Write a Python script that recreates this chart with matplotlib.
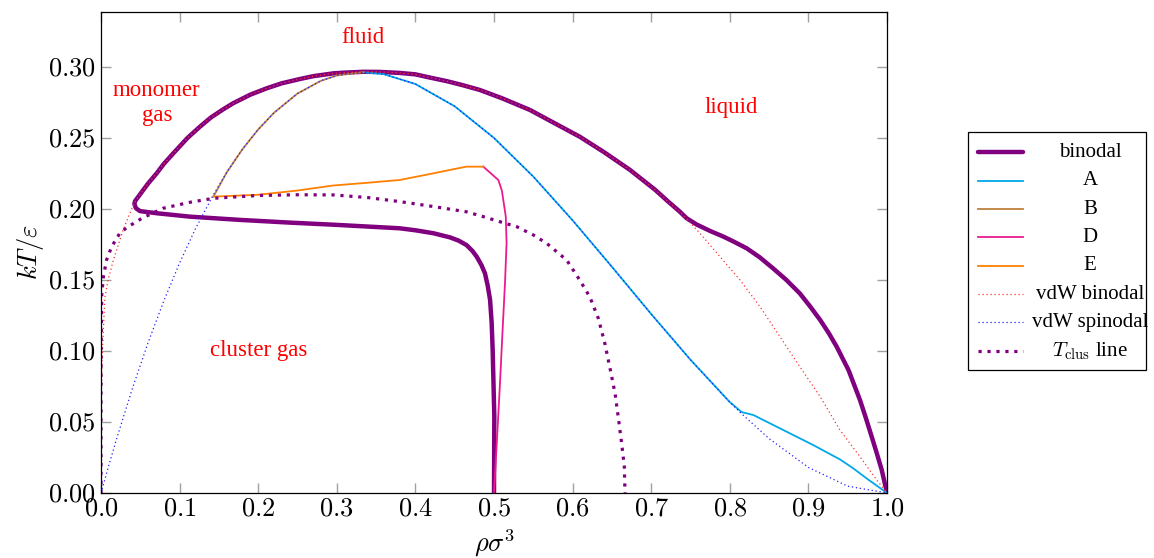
import matplotlib
matplotlib.use("Agg")
import matplotlib.pyplot as plt
from matplotlib.lines import Line2D
from matplotlib.patches import Rectangle

plt.rcParams['mathtext.fontset'] = 'cm'
plt.rcParams['font.family'] = ['Liberation Serif', 'DejaVu Serif']

# ---------------- data ----------------
binodal_x = [0.500, 0.5004, 0.4983, 0.497, 0.495, 0.492, 0.4885, 0.484, 0.478, 0.4725,
             0.465, 0.455, 0.444, 0.423, 0.400, 0.380, 0.300, 0.240, 0.177, 0.113,
             0.0708, 0.0496, 0.0445, 0.0425, 0.0433, 0.0538, 0.060, 0.0708, 0.080,
             0.092, 0.100, 0.110, 0.126, 0.140, 0.155, 0.168, 0.190, 0.211, 0.230,
             0.253, 0.270, 0.2956, 0.310, 0.3337, 0.355, 0.380, 0.400, 0.4186, 0.440,
             0.460, 0.482, 0.510, 0.5458, 0.575, 0.609, 0.640, 0.673, 0.705, 0.722,
             0.7366, 0.745, 0.758, 0.775, 0.792, 0.805, 0.8215, 0.838, 0.855, 0.872,
             0.889, 0.902, 0.915, 0.926, 0.936, 0.951, 0.958, 0.9656, 0.973, 0.9805,
             0.987, 0.9933, 1.0]
binodal_y = [0.000, 0.054, 0.1007, 0.120, 0.136, 0.146, 0.1547, 0.1605, 0.1664, 0.1705,
             0.1746, 0.1777, 0.1800, 0.1829, 0.1850, 0.1864, 0.1888, 0.1904, 0.1923,
             0.1946, 0.1970, 0.1985, 0.2005, 0.2035, 0.2055, 0.2134, 0.2180, 0.2251,
             0.2318, 0.2392, 0.2440, 0.2500, 0.2580, 0.2645, 0.2700, 0.2744, 0.2805,
             0.2850, 0.2885, 0.2915, 0.2935, 0.2955, 0.2960, 0.2966, 0.2965, 0.2958,
             0.2948, 0.2925, 0.2900, 0.2872, 0.2838, 0.2780, 0.2697, 0.2610, 0.2509,
             0.2400, 0.2275, 0.2135, 0.2050, 0.1980, 0.1935, 0.1890, 0.1845, 0.1805,
             0.1770, 0.1723, 0.1660, 0.1582, 0.1500, 0.1406, 0.1315, 0.1218, 0.1125,
             0.1030, 0.0866, 0.0765, 0.0655, 0.0530, 0.0397, 0.0280, 0.0162, 0.0]

A_x = [0.3333, 0.36, 0.40, 0.45, 0.50, 0.55, 0.60, 0.65, 0.70, 0.75, 0.80, 0.815,
       0.830, 0.8639, 0.906, 0.940, 0.957, 0.974, 1.0]
A_y = [0.2963, 0.2949, 0.2880, 0.2723, 0.2500, 0.2228, 0.1920, 0.1593, 0.1260, 0.0938,
       0.0640, 0.0570, 0.0549, 0.0455, 0.0338, 0.0237, 0.0174, 0.0103, 0.0]

B_x = [0.143, 0.16, 0.18, 0.20, 0.22, 0.25, 0.28, 0.30, 0.3333]
B_y = [0.2087, 0.2258, 0.2421, 0.2560, 0.2677, 0.2813, 0.2903, 0.2940, 0.2963]

D_x = [0.500, 0.5035, 0.5076, 0.5105, 0.514, 0.516, 0.515, 0.510, 0.5055, 0.4864]
D_y = [0.000, 0.035, 0.077, 0.110, 0.148, 0.176, 0.1946, 0.213, 0.2204, 0.2298]

E_x = [0.143, 0.200, 0.250, 0.295, 0.340, 0.380, 0.423, 0.444, 0.465, 0.4864]
E_y = [0.2087, 0.2100, 0.2130, 0.2165, 0.2185, 0.2204, 0.2251, 0.2275, 0.2298, 0.2298]

vdw_bin_x = [0.0, 0.0003, 0.001, 0.003, 0.005, 0.009, 0.0157, 0.028, 0.036, 0.0433,
             0.0538, 0.060, 0.0708, 0.080, 0.092, 0.100, 0.110, 0.126, 0.140, 0.155,
             0.168, 0.190, 0.211, 0.230, 0.253, 0.270, 0.2956, 0.310, 0.3337, 0.355,
             0.380, 0.400, 0.4186, 0.440, 0.460, 0.482, 0.510, 0.5458, 0.575, 0.609,
             0.640, 0.673, 0.705, 0.722, 0.7366, 0.762, 0.7875, 0.813, 0.8384, 0.8639,
             0.889, 0.915, 0.940, 0.9656, 0.9869, 1.0]
vdw_bin_y = [0.0, 0.060, 0.090, 0.115, 0.138, 0.150, 0.164, 0.185, 0.196, 0.2051,
             0.2134, 0.2180, 0.2251, 0.2318, 0.2392, 0.2440, 0.2500, 0.2580, 0.2645,
             0.2700, 0.2744, 0.2805, 0.2850, 0.2885, 0.2915, 0.2935, 0.2955, 0.2960,
             0.2966, 0.2965, 0.2958, 0.2948, 0.2925, 0.2900, 0.2872, 0.2838, 0.2780,
             0.2697, 0.2610, 0.2509, 0.2400, 0.2275, 0.2135, 0.2050, 0.1980, 0.1829,
             0.1664, 0.1500, 0.1312, 0.1100, 0.0890, 0.0678, 0.0444, 0.0256, 0.0092, 0.0]

vdw_spin_x = [0.0, 0.01, 0.02, 0.04, 0.06, 0.08, 0.10, 0.12, 0.143, 0.16, 0.18, 0.20,
              0.22, 0.25, 0.28, 0.30, 0.3333, 0.36, 0.40, 0.45, 0.50, 0.55, 0.60, 0.65,
              0.70, 0.75, 0.80, 0.815, 0.85, 0.90, 0.95, 1.0]
vdw_spin_y = [0.0, 0.0196, 0.0384, 0.0737, 0.1060, 0.1354, 0.1620, 0.1859, 0.2100,
              0.2258, 0.2421, 0.2560, 0.2677, 0.2813, 0.2903, 0.2940, 0.2963, 0.2949,
              0.2880, 0.2723, 0.2500, 0.2228, 0.1920, 0.1593, 0.1260, 0.0938, 0.0640,
              0.0558, 0.0383, 0.0180, 0.0048, 0.0]

tclus_x = [0.0, 0.0, 0.001, 0.003, 0.007, 0.0136, 0.024, 0.033, 0.052, 0.079, 0.113,
           0.143, 0.200, 0.250, 0.2956, 0.340, 0.380, 0.423, 0.465, 0.4864, 0.5076,
           0.529, 0.550, 0.567, 0.5925, 0.609, 0.622, 0.6327, 0.641, 0.6476, 0.654,
           0.658, 0.6624, 0.6658, 0.6667]
tclus_y = [0.0, 0.100, 0.140, 0.152, 0.164, 0.1735, 0.183, 0.187, 0.1934, 0.2005, 0.2047,
           0.2075, 0.2095, 0.2100, 0.2099, 0.2080, 0.2052, 0.2017, 0.1980, 0.1946, 0.1910,
           0.1875, 0.1817, 0.1758, 0.1640, 0.1500, 0.1380, 0.1230, 0.1054, 0.0878, 0.0702,
           0.0537, 0.0350, 0.0185, 0.0]

x_ticks = [0.0, 0.1, 0.2, 0.3, 0.4, 0.5, 0.6, 0.7, 0.8, 0.9, 1.0]
y_ticks = [0.00, 0.05, 0.10, 0.15, 0.20, 0.25, 0.30]

labels = ['binodal', 'A', 'B', 'D', 'E', 'vdW binodal', 'vdW spinodal',
          r'$T_{\mathrm{clus}}$ line']
annotations = [('fluid', 0.333, 0.3204), ('monomer\ngas', 0.071, 0.2746),
               ('liquid', 0.8015, 0.2718), ('cluster gas', 0.201, 0.100)]

# ---------------- styles ----------------
PURPLE = '#800080'
styles = [
    dict(color=PURPLE, lw=3.2, ls='-', solid_capstyle='round', solid_joinstyle='round'),
    dict(color='#00a8e8', lw=1.3, ls='-'),
    dict(color='#bf8040', lw=1.3, ls='-'),
    dict(color='#ec1a8e', lw=1.3, ls='-'),
    dict(color='#ff8000', lw=1.3, ls='-'),
    dict(color='#ff3030', lw=0.9, ls=(0, (1, 2.2))),
    dict(color='#2020ff', lw=0.9, ls=(0, (1, 2.2))),
    dict(color=PURPLE, lw=2.3, ls=(0, (1, 1.8)), dash_capstyle='butt'),
]
series = [(binodal_x, binodal_y), (A_x, A_y), (B_x, B_y), (D_x, D_y), (E_x, E_y),
          (vdw_bin_x, vdw_bin_y), (vdw_spin_x, vdw_spin_y), (tclus_x, tclus_y)]

W, H = 1154, 558
fig = plt.figure(figsize=(W / 100, H / 100), dpi=100)
ax = fig.add_axes([101 / W, 1 - 493 / H, (887 - 101) / W, (493 - 12) / H])

for (xs, ys), st, lab in zip(series, styles, labels):
    ax.plot(xs, ys, label=lab, **st)

ax.set_xlim(0, 1)
ax.set_ylim(0, 0.3387)
ax.set_xticks(x_ticks)
ax.set_yticks(y_ticks)
ax.set_xticklabels([f'${v:.1f}$' for v in x_ticks])
ax.set_yticklabels([f'${v:.2f}$' for v in y_ticks])
ax.tick_params(direction='in', length=7.5, width=1.0, color='#a0a0a0',
               labelcolor='black', labelsize=19, top=True, right=True, pad=4)
for sp in ax.spines.values():
    sp.set_linewidth(0.9)
    sp.set_color('black')

ax.set_xlabel(r'$\rho\sigma^3$', fontsize=19, labelpad=5)
ax.set_ylabel(r'$kT/\varepsilon$', fontsize=19, labelpad=1)

for txt, x, y in annotations:
    ax.text(x, y, txt, color='red', fontsize=16.5, ha='center', va='center',
            linespacing=1.3)

# ---------------- legend (centred entries, drawn in figure coords) ----------------
fx = lambda px: px / W
fy = lambda py: 1 - py / H
fig.add_artist(Rectangle((fx(967.5), fy(370)), (1146 - 967.5) / W, (370 - 132) / H,
                         transform=fig.transFigure, fill=False, ec='black', lw=0.9,
                         facecolor='white'))
row0, dy = 152.3, 28.35
for i, (st, lab) in enumerate(zip(styles, labels)):
    yy = row0 + i * dy
    fig.add_artist(Line2D([fx(978), fx(1023)], [fy(yy), fy(yy)],
                          transform=fig.transFigure, **st))
    fig.text(fx(1090), fy(yy), lab, ha='center', va='center', fontsize=15)

fig.savefig('out.png', dpi=100)
